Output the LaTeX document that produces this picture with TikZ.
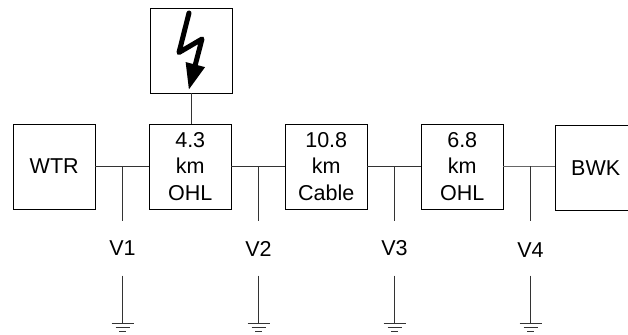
\documentclass[tikz,border=0pt]{standalone}
\usepackage{fontspec}
\setmainfont{Liberation Sans}
\usetikzlibrary{arrows.meta, calc}

\begin{document}
\begin{tikzpicture}[
        block/.style={rectangle, draw=black, line width=1.1pt, minimum width=3.26cm, minimum height=3.4cm, inner sep=0pt, align=center, font=\fontsize{24.5}{30}\selectfont},
        tap/.style={inner sep=0pt, minimum height=2.16cm, font=\fontsize{24.5}{28}\selectfont},
        wire/.style={line width=1.1pt, black!80},
        heavy wire/.style={line width=1.7pt, black!60},
        bolt line/.style={line width=5.7pt, line join=round, line cap=round, -{Triangle[length=1.05cm, width=0.74cm]}},
        ground/.pic={
            \draw[wire] (-0.44,0) -- (0.44,0);
            \draw[wire] (-0.28,-0.14) -- (0.28,-0.14);
            \draw[wire] (-0.14,-0.3) -- (0.14,-0.3);
        }
    ]
        \useasboundingbox (0,0) rectangle (25.12,13.36);

        \node[block] (wtr) at (2.17,6.70) {WTR};
        \node[block] (ohl1) at (7.61,6.70) {4.3\\km\\OHL};
        \node[block] (cable) at (13.05,6.70) {10.8\\km\\Cable};
        \node[block] (ohl2) at (18.49,6.70) {6.8\\km\\OHL};
        \node[block] (bwk) at (23.83,6.63) {BWK};
        \node[block] (fault) at (7.65,11.34) {};

        % voltage taps
        \node[tap] (v1) at (4.90,3.42) {V1};
        \node[tap] (v2) at (10.34,3.42) {V2};
        \node[tap] (v3) at (15.78,3.42) {V3};
        \node[tap] (v4) at (21.22,3.42) {\raisebox{-.06cm}[\height][\depth]{V4}};

        \coordinate (g1) at (4.90,0.41);
        \coordinate (g2) at (10.34,0.41);
        \coordinate (g3) at (15.78,0.41);
        \coordinate (g4) at (21.22,0.41);

        \draw[wire] (wtr) -- (ohl1);
        \draw[wire] (ohl1) -- (cable);
        \draw[wire] (cable) -- (ohl2);
        \draw[heavy wire] (ohl2) -- (ohl2 -| bwk.west);
        \draw[wire] (fault) -- (fault |- ohl1.north);

        \foreach \i/\src in {1/wtr, 2/cable, 3/ohl2, 4/ohl2} {
            \draw[wire] (v\i |- \src) -- (v\i);
            \draw[wire] (v\i) -- (g\i);
            \pic at (g\i) {ground};
        }

        % lightning
        \draw[bolt line] ($(fault)+(-0.09,1.50)$) -- ($(fault)+(-0.49,-0.08)$) -- ($(fault)+(0.43,0.46)$) -- ($(fault)+(-0.10,-1.58)$);
    \end{tikzpicture}
\end{document}
